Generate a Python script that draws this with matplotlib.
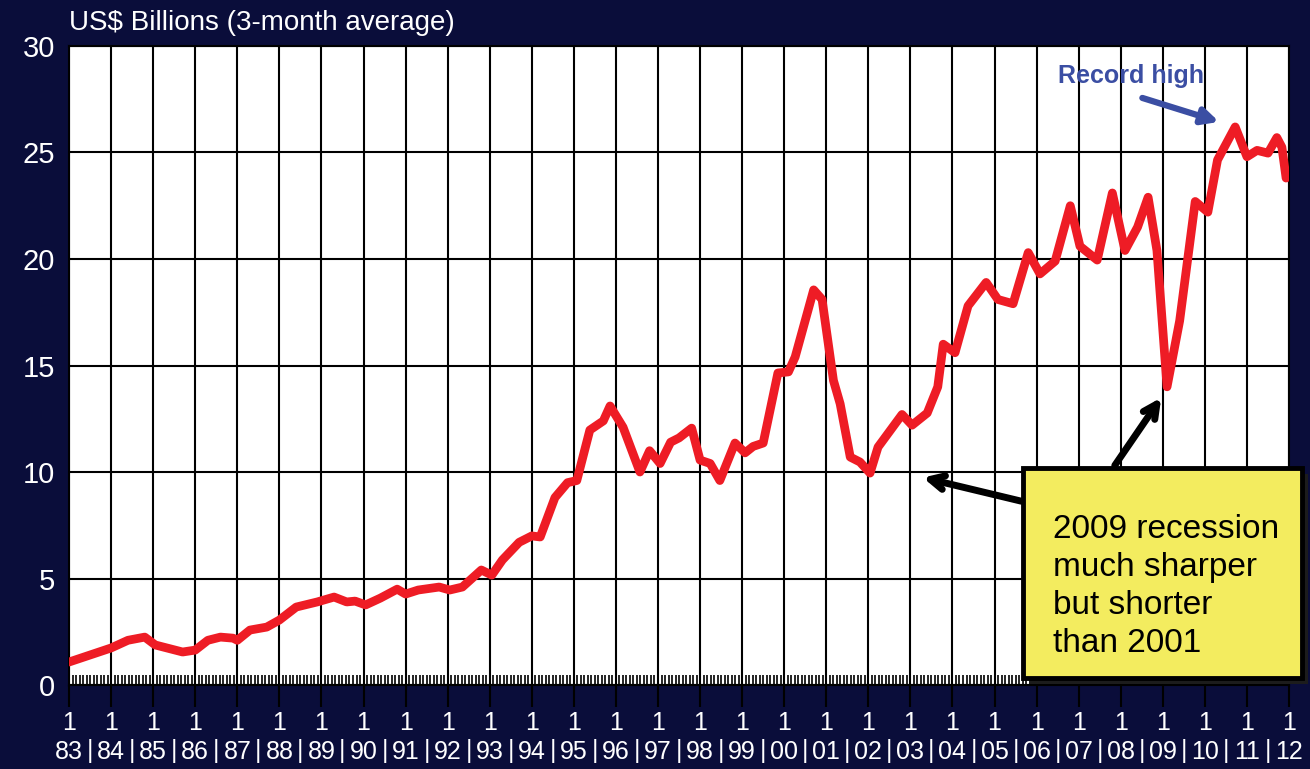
import numpy as np
import matplotlib
matplotlib.use("Agg")
import matplotlib.pyplot as plt
from matplotlib.patches import Rectangle
from matplotlib.transforms import blended_transform_factory

plt.rcParams['font.family'] = ['Liberation Sans', 'DejaVu Sans']

# values (decimal year, US$ billions)
years = [1983.0, 1984.0, 1984.4, 1984.8, 1985.05, 1985.7, 1986.0, 1986.3, 1986.6, 1986.9,
         1987.0, 1987.3, 1987.7, 1988.0, 1988.4, 1988.9, 1989.3, 1989.6, 1989.8, 1990.05,
         1990.4, 1990.8, 1991.0, 1991.3, 1991.8, 1992.05, 1992.35, 1992.8, 1993.05, 1993.3,
         1993.7, 1994.0, 1994.2, 1994.55, 1994.85, 1995.07, 1995.38, 1995.7, 1995.86, 1996.17,
         1996.57, 1996.8, 1997.05, 1997.3, 1997.5, 1997.8, 1998.0, 1998.24, 1998.47, 1998.83,
         1999.07, 1999.26, 1999.5, 1999.85, 2000.1, 2000.26, 2000.7, 2000.9, 2001.17, 2001.33,
         2001.57, 2001.8, 2002.04, 2002.23, 2002.8, 2003.04, 2003.4, 2003.65, 2003.78, 2004.06,
         2004.37, 2004.8, 2005.08, 2005.44, 2005.8, 2006.08, 2006.44, 2006.8, 2007.03, 2007.44,
         2007.8, 2008.1, 2008.4, 2008.65, 2008.86, 2009.1, 2009.4, 2009.77, 2010.07, 2010.3,
         2010.72, 2011.0, 2011.24, 2011.5, 2011.71, 2011.83, 2011.93]
values = [1.08, 1.74, 2.1, 2.25, 1.88, 1.55, 1.64, 2.1, 2.25, 2.2,
          2.1, 2.58, 2.72, 3.05, 3.66, 3.9, 4.13, 3.9, 3.94, 3.76,
          4.08, 4.5, 4.27, 4.46, 4.6, 4.46, 4.6, 5.4, 5.16, 5.87,
          6.7, 7.0, 6.95, 8.8, 9.5, 9.6, 11.97, 12.4, 13.1, 12.1,
          10.0, 11.0, 10.4, 11.4, 11.6, 12.06, 10.56, 10.4, 9.6, 11.36,
          10.9, 11.2, 11.36, 14.65, 14.7, 15.4, 18.55, 18.1, 14.3, 13.2,
          10.7, 10.47, 9.95, 11.17, 12.7, 12.2, 12.77, 14.0, 16.0, 15.6,
          17.8, 18.9, 18.1, 17.9, 20.3, 19.3, 19.9, 22.5, 20.6, 19.95,
          23.1, 20.4, 21.5, 22.9, 20.4, 14.0, 17.1, 22.7, 22.2, 24.65,
          26.2, 24.8, 25.1, 24.97, 25.7, 25.25, 23.8]

tick_years = list(range(1983, 2013))
tick_labels = ["1\n%02d" % (y % 100) for y in tick_years]
y_ticks = [0, 5, 10, 15, 20, 25, 30]

unit_label = "US$ Billions (3-month average)"
record_label = "Record high"
box_text = "2009 recession\nmuch sharper\nbut shorter\nthan 2001"

bg = "#0a0d3a"
fig = plt.figure(figsize=(13.1, 7.69), dpi=100, facecolor=bg)
ax = fig.add_axes([0.0527, 0.1092, 0.9313, 0.831])
ax.set_facecolor("white")

ax.plot(years, values, color="#ee1c25", lw=6.3, solid_joinstyle="round",
        solid_capstyle="round", zorder=3)

ax.set_xlim(1983, 2012)
ax.set_ylim(0, 30)
ax.set_yticks(y_ticks)
ax.set_xticks(tick_years)
ax.set_xticklabels(tick_labels, linespacing=1.25)
ax.set_xticks(np.arange(1983, 2012, 1 / 12), minor=True)

ax.grid(True, which="major", color="black", lw=1.5, zorder=1)
ax.tick_params(axis="x", which="major", direction="out", length=16, width=1.5,
               color="black", labelcolor="white", labelsize=18, pad=3)
ax.tick_params(axis="x", which="minor", direction="in", length=7, width=1.2, color="black")
ax.tick_params(axis="y", length=0, labelcolor="white", labelsize=21, pad=10)
for s in ax.spines.values():
    s.set_color("black")
    s.set_linewidth(1.5)

# separators between year labels
tr = blended_transform_factory(ax.transData, ax.transAxes)
for y in tick_years[:-1]:
    ax.text(y + 0.5, -0.103, "|", transform=tr, color="white", fontsize=18,
            ha="center", va="center")

fig.text(0.0527, 0.97, unit_label, color="white", fontsize=20, ha="left", va="center")

# record high note
ax.text(2008.25, 28.6, record_label, color="#3b4ea3", fontsize=18, fontweight="bold",
        ha="center", va="center", zorder=5)
ax.annotate("", xy=(2010.4, 26.4), xytext=(2008.45, 27.6),
            arrowprops=dict(arrowstyle="-|>", lw=4.5, color="#3b4ea3", mutation_scale=24),
            zorder=5)

# yellow call-out box with shadow
fig.add_artist(Rectangle((0.7855, 0.1105), 0.213, 0.273, transform=fig.transFigure,
                         facecolor="#1c1c1c", edgecolor="none", zorder=6))
fig.add_artist(Rectangle((0.781, 0.1183), 0.213, 0.273, transform=fig.transFigure,
                         facecolor="#f3ec5f", edgecolor="black", lw=3.5, zorder=7))
fig.text(0.8035, 0.331, box_text, color="black", fontsize=24, ha="left", va="top",
         linespacing=1.28, zorder=8)

ax.annotate("", xy=(2003.23, 9.77), xytext=(2005.7, 8.6),
            arrowprops=dict(arrowstyle="->", lw=5, color="black", mutation_scale=25),
            zorder=5)
ax.annotate("", xy=(2009.0, 13.6), xytext=(2007.82, 10.2),
            arrowprops=dict(arrowstyle="->", lw=5, color="black", mutation_scale=25),
            zorder=5)

fig.savefig("out.png", dpi=100, facecolor=bg)
